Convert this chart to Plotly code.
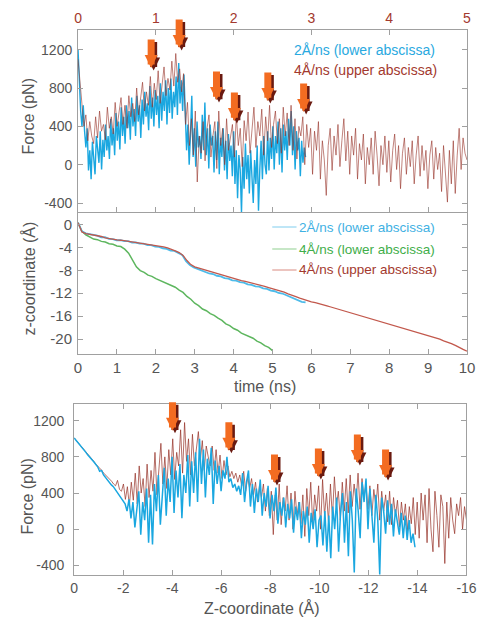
import numpy as np
import plotly.graph_objects as go

W, H = 485, 617
FONT = "Liberation Sans, Arial, sans-serif"

# ---------------- data ----------------
# Top panel: force (pN)
# 2 Å/ns pulling, lower abscissa (time, ns), 0 .. 5.85 ns
top_blue_t_end = 5.85
top_blue_force = [
    1200, 820, 560, 400, 620, 350, 180, 380, -60, 150,
    -150, 240, 60, -100, 300, 120, 20, 350, -50, 260,
    80, 420, 150, 300, 60, 480, 200, 380, 100, 540,
    250, 450, 160, 600, 300, 500, 220, 620, 380, 560,
    260, 700, 400, 580, 300, 720, 450, 620, 280, 680,
    420, 760, 500, 640, 360, 820, 480, 700, 400, 780,
    520, 720, 380, 850, 460, 760, 560, 880, 420, 800,
    540, 900, 480, 760, 600, 920, 520, 1060, 640, 880,
    560, 940, 600, 150, 420, 0, 320, 720, 80, 380,
    -20, 450, 180, 300, 60, 520, 150, 650, 100, 380,
    -40, 420, 200, 300, -80, 350, 50, 450, -100, 280,
    80, 380, -60, 250, -150, 320, 40, 200, -120, 350,
    -200, 150, -350, 100, -50, -500, 80, -250, 220, -150,
    100, -300, 150, -100, -400, 50, -200, 200, -480, -50,
    250, -150, 300, 0, -100, 350, -60, 280, 60, 400,
    -50, 300, 120, 450, 0, 380, -80, 420, 150, 350,
    50, 480, 200, 560, 100, 400, -50, 350, 150, 280,
    -120, 250, 20, 180, 80,
]
# 4 Å/ns pulling, upper abscissa (time, ns), 0 .. 5 ns
top_red_t_end = 5.0
top_red_force = [
    1100, 850, 620, 400, 520, 250, 450, 300, 220, 500,
    280, 560, 350, 420, 260, 600, 380, 500, 320, 650,
    400, 580, 700, 420, 620, 380, 720, 500, 640, 450,
    800, 520, 700, 860, 560, 760, 620, 920, 600, 850,
    680, 980, 640, 820, 1020, 720, 900, 780, 1080, 820,
    1160, 860, 1000, 760, 950, 420, 650, 200, 480, 100,
    560, -180, 300, 120, 450, 40, 380, 520, 80, 300,
    450, -40, 560, 200, 380, 0, 480, 150, 300, 420,
    80, 520, 200, 380, -20, 460, 250, 550, 120, 400,
    600, 180, 450, 300, 580, 100, 500, 250, 620, 180,
    420, 560, 220, 480, 120, 600, 300, 540, 200, 620,
    150, 480, 60, 400, 300, 500, 0, 420, 180, 380,
    -100, 350, 150, 450, -150, 250, 50, -320, 200, 380,
    -60, 300, 100, 420, -20, 250, 480, 40, 350, -100,
    300, 100, 380, -150, 220, 50, 320, -200, 180, 0,
    280, -100, 350, 100, -220, 200, 0, 300, -80, 250,
    -180, 150, 320, -50, 200, -250, 120, 280, -100, 180,
    -20, 250, -200, 100, 300, -120, 200, -60, 150, -250,
    100, 250, -150, 180, -50, 120, -280, 200, -100, -390,
    150, -200, 250, -300, 100, 380, -50, 280, 120, 50,
]

# Middle panel: z-coordinate (Å) versus time
mid_blue_t_end = 5.85
mid_blue_z = [
    0.3, -1.2, -1.55, -1.65, -1.85, -1.95, -2.25, -2.2, -2.5, -2.55,
    -2.75, -2.75, -2.9, -2.9, -3.15, -3.15, -3.35, -3.35, -3.6, -3.6,
    -3.85, -3.9, -4.15, -4.25, -4.55, -4.6, -4.95, -5.3, -6.4, -7.1,
    -7.5, -7.75, -8.05, -8.25, -8.55, -8.65, -8.95, -9.05, -9.35, -9.45,
    -9.75, -9.8, -10.05, -10.15, -10.45, -10.55, -10.8, -10.85, -11.15, -11.25,
    -11.55, -11.65, -11.95, -12.05, -12.35, -12.55, -12.95, -13.15, -13.5, -13.6,
]
mid_green_t_end = 5.0
mid_green_z = [
    0.3, -1.2, -1.8, -2.2, -2.55, -2.65, -2.95, -3.05, -3.35, -3.45,
    -3.75, -3.85, -4.3, -5.0, -6.3, -7.4, -8.05, -8.35, -8.85, -9.05,
    -9.45, -9.75, -10.15, -10.35, -10.75, -10.95, -11.45, -11.85, -12.55, -13.05,
    -13.75, -14.15, -14.75, -15.05, -15.55, -15.85, -16.35, -16.75, -17.35, -17.65,
    -18.15, -18.45, -18.95, -19.25, -19.65, -19.85, -20.35, -20.65, -21.15, -21.45,
    -22.0,
]
mid_red_t_end = 5.0
mid_red_z = [
    0.3, -1.3, -1.6, -1.7, -1.8, -1.95, -2.1, -2.35, -2.5, -2.6,
    -2.7, -2.75, -2.85, -2.9, -3.0, -3.1, -3.2, -3.3, -3.45, -3.5,
    -3.7, -3.75, -3.9, -4.1, -4.3, -4.6, -4.9, -5.4, -6.3, -7.0,
    -7.4, -7.6, -7.9, -8.05, -8.3, -8.5, -8.7, -8.85, -9.1, -9.3,
    -9.5, -9.6, -9.8, -9.95, -10.1, -10.3, -10.5, -10.6, -10.8, -11.0,
    -11.2, -11.35, -11.6, -11.8, -12.1, -12.3, -12.6, -12.85, -13.1, -13.3,
    -13.5, -13.65, -13.8, -14.0, -14.2, -14.4, -14.6, -14.8, -15.0, -15.1,
    -15.35, -15.5, -15.7, -15.95, -16.2, -16.4, -16.6, -16.8, -17.0, -17.2,
    -17.4, -17.55, -17.8, -18.0, -18.2, -18.35, -18.6, -18.8, -19.0, -19.15,
    -19.4, -19.6, -19.8, -20.0, -20.3, -20.5, -20.8, -21.1, -21.5, -21.8,
    -22.1,
]

# Bottom panel: force (pN) versus Z-coordinate (Å)
bot_blue_z_end = -13.9
bot_blue_force = [
    1010, 985, 955, 930, 905, 880, 850, 820, 800, 770,
    745, 715, 690, 640, 650, 600, 570, 545, 520, 490,
    470, 440, 410, 380, 350, 320, 280, 200, 330, 120,
    300, 20, 250, 420, -60, 300, 100, 450, -150, 380,
    -170, 500, 200, 600, 50, 420, 680, 150, 560, 300,
    800, 180, 650, 350, 720, 120, 600, 400, 820, 250,
    750, 400, 850, 300, 1000, 500, 880, 350, 780, 600,
    900, 280, 760, 500, 700, 420, 650, 560, 800, 520,
    560, 460, 500, 420, 480, 380, 620, 300, 520, 650,
    250, 500, 180, 450, 300, 550, 150, 400, 250, 480,
    120, 380, 200, 460, 60, 300, 150, 350, 20, 280,
    120, 330, -40, 250, 100, 300, -100, 200, 50, 250,
    -150, 180, 0, 220, -200, 100, 150, -180, 200, -250,
    150, -320, 250, 0, 350, -250, 180, 400, -150, 300,
    -300, 420, 100, -480, 450, 200, -100, 520, 300, 560,
    0, 450, 150, -150, 380, 100, -500, 350, 200, -50,
    320, 50, 280, -80, 220, 100, -60, 180, -100, 150,
    -120, 100, -150, -50, -200,
]
bot_red_z_end = -16.0
bot_red_force = [
    1010, 985, 960, 935, 905, 880, 850, 830, 800, 775,
    750, 720, 700, 680, 650, 620, 600, 580, 560, 530,
    500, 480, 540, 440, 420, 500, 330, 470, 260, 520,
    320, 620, 280, 700, 400, 560, 250, 720, 350, 650,
    420, 850, 380, 700, 950, 500, 800, 450, 880, 600,
    1000, 550, 850, 700, 1100, 620, 1180, 750, 1000, 600,
    1050, 700, 900, 1080, 760, 980, 650, 920, 800, 700,
    920, 650, 880, 620, 820, 560, 760, 600, 700, 580,
    640, 560, 620, 520, 600, 480, 640, 420, 580, 450,
    560, 380, 520, 300, 480, 350, 500, 200, 450, 150,
    420, -60, 380, 100, 500, 50, 350, 200, 480, 100,
    400, 0, 420, 150, 300, 60, 380, -80, 450, 150,
    520, 50, 380, 200, 480, 0, 550, 150, 400, 80,
    500, 120, 580, 250, 420, 100, 520, 200, 560, 180,
    600, 250, 500, 300, 620, 220, 560, 350, 500, 220,
    480, 150, 440, 250, 500, 100, 420, 200, 380, 80,
    420, 50, 350, 150, 320, 20, 300, 100, 280, -20,
    250, 60, 350, -60, 300, -100, 400, 100, 380, -150,
    450, 0, -250, 420, 150, -200, 380, 250, -380, 300,
    -100, 350, 100, -50, 280, 150, 350, 0, 250, 100,
]

# Arrows marking rupture events (tip positions)
top_arrow_time_upper = [0.94, 1.30, 1.78, 2.01, 2.44, 2.90]
top_arrow_force = [1009, 1218, 675, 456, 664, 550]
bot_arrow_z = [-4.01, -6.31, -8.17, -9.96, -11.55, -12.70]
bot_arrow_force = [1089, 867, 511, 578, 733, 567]

# Tick labels
top_force_ticks = [-400, 0, 400, 800, 1200]
z_ticks = [0, -4, -8, -12, -16, -20]
time_ticks = list(range(0, 11))
upper_time_ticks = list(range(0, 6))
zcoord_ticks = [0, -2, -4, -6, -8, -10, -12, -14, -16]
bot_force_ticks = [-400, 0, 400, 800, 1200]

# ---------------- styling ----------------
BLUE = "#1aa7e0"
RED = "rgba(150,48,38,0.6)"
RED_TXT = "#a3392e"
GREEN = "#5db65e"
GRAY_TXT = "#555555"
AXIS = "#a0a0a0"
ORANGE = "#f36c21"
SHADOW = "#6a1a10"


def px_x(px):
    return px / W


def px_y(py):
    return 1 - py / H


fig = go.Figure()

# top panel
fig.add_trace(go.Scatter(
    x=np.linspace(0, top_blue_t_end, len(top_blue_force)), y=top_blue_force,
    mode="lines", line=dict(color=BLUE, width=1.4), xaxis="x", yaxis="y",
    showlegend=False))
fig.add_trace(go.Scatter(
    x=np.linspace(0, top_red_t_end, len(top_red_force)), y=top_red_force,
    mode="lines", line=dict(color=RED, width=1), xaxis="x2", yaxis="y",
    showlegend=False))
# middle panel
fig.add_trace(go.Scatter(
    x=np.linspace(0, mid_green_t_end, len(mid_green_z)), y=mid_green_z,
    mode="lines", line=dict(color=GREEN, width=1.5), xaxis="x3", yaxis="y3",
    showlegend=False))
fig.add_trace(go.Scatter(
    x=np.linspace(0, mid_blue_t_end, len(mid_blue_z)), y=mid_blue_z,
    mode="lines", line=dict(color="#4dbbe9", width=1.8), xaxis="x3", yaxis="y3",
    showlegend=False))
fig.add_trace(go.Scatter(
    x=np.linspace(0, mid_red_t_end, len(mid_red_z)), y=mid_red_z,
    mode="lines", line=dict(color="#c2584c", width=1.3), xaxis="x4", yaxis="y3",
    showlegend=False))
# bottom panel (red behind, blue in front)
fig.add_trace(go.Scatter(
    x=np.linspace(0, bot_red_z_end, len(bot_red_force)), y=bot_red_force,
    mode="lines", line=dict(color="rgba(150,48,38,0.7)", width=1),
    xaxis="x5", yaxis="y5", showlegend=False))
fig.add_trace(go.Scatter(
    x=np.linspace(0, bot_blue_z_end, len(bot_blue_force)), y=bot_blue_force,
    mode="lines", line=dict(color=BLUE, width=1.5), xaxis="x5", yaxis="y5",
    showlegend=False))


def ax_common(**kw):
    d = dict(showline=True, linecolor=AXIS, linewidth=1, ticks="inside",
             ticklen=5, tickcolor=AXIS, showgrid=False, zeroline=False,
             tickfont=dict(family=FONT, size=14, color=GRAY_TXT))
    d.update(kw)
    return d


def labels(vals):
    return [str(v) for v in vals]


TOP_DOM = [px_y(204), px_y(22)]
MID_DOM = [px_y(346), px_y(205)]
BOT_DOM = [px_y(567), px_y(396)]
XDOM = [px_x(68), px_x(468.5)]

fig.update_layout(
    width=W, height=H,
    margin=dict(l=0, r=0, t=0, b=0),
    paper_bgcolor="white", plot_bgcolor="white",
    font=dict(family=FONT, color=GRAY_TXT),
    xaxis=ax_common(domain=XDOM, anchor="y", range=[0, 10],
                    tickvals=time_ticks, showticklabels=False),
    xaxis2=ax_common(overlaying="x", side="top", anchor="y", range=[0, 5],
                     tickvals=upper_time_ticks, ticktext=labels(upper_time_ticks),
                     tickfont=dict(family=FONT, size=14, color=RED_TXT)),
    yaxis=ax_common(domain=TOP_DOM, anchor="x", range=[-493, 1405],
                    tickvals=top_force_ticks, ticktext=labels(top_force_ticks),
                    mirror="ticks", ticklabelstandoff=2),
    xaxis3=ax_common(domain=XDOM, anchor="y3", range=[0, 10],
                     tickvals=time_ticks, ticktext=labels(time_ticks),
                     mirror=True, tickfont=dict(family=FONT, size=15, color=GRAY_TXT)),
    xaxis4=dict(overlaying="x3", anchor="y3", range=[0, 5], visible=False),
    yaxis3=ax_common(domain=MID_DOM, anchor="x3", range=[-22.6, 2.0],
                     tickvals=z_ticks, ticktext=labels(z_ticks), mirror="ticks",
                     ticklabelstandoff=2,
                     tickfont=dict(family=FONT, size=15, color=GRAY_TXT)),
    xaxis5=ax_common(domain=[px_x(64), px_x(468)], anchor="y5", range=[0, -16],
                     tickvals=zcoord_ticks, ticktext=labels(zcoord_ticks),
                     mirror="ticks"),
    yaxis5=ax_common(domain=BOT_DOM, anchor="x5", range=[-507, 1385],
                     tickvals=bot_force_ticks, ticktext=labels(bot_force_ticks),
                     mirror="ticks", ticklabelstandoff=6),
)

ann = []


def title(text, x, y, size=16, angle=0):
    ann.append(dict(text=text, xref="paper", yref="paper", x=px_x(x), y=px_y(y),
                    xanchor="center", yanchor="middle", showarrow=False,
                    textangle=angle, font=dict(family=FONT, size=size, color=GRAY_TXT)))


title("Force (pN)", 18, 108, angle=-90)
title("z-coordinate (Å)", 18, 270, angle=-90)
title("time (ns)", 261, 378)
title("Force (pN)", 15, 489, angle=-90)
title("Z-coordinate (Å)", 257, 600)


def legend_text(text, x, y, color, size=14):
    ann.append(dict(text=text, xref="paper", yref="paper", x=px_x(x), y=px_y(y),
                    xanchor="left", yanchor="middle", showarrow=False,
                    font=dict(family=FONT, size=size, color=color)))


legend_text("2Å/ns (lower abscissa)", 288, 42, "#29a9e0")
legend_text("4Å/ns (upper abscissa)", 288, 62, RED_TXT)
legend_text("2Å/ns (lower abscissa)", 293, 219, "#3fb1e3", 13.5)
legend_text("4Å/ns (lower abscissa)", 293, 241, "#3fae4a", 13.5)
legend_text("4Å/ns (upper abscissa)", 293, 262, RED_TXT, 13.5)

shapes = []
for py, col in [(219, "#7fcdee"), (241, "#8fcf8f"), (262, "#d98a80")]:
    shapes.append(dict(type="line", xref="paper", yref="paper",
                       x0=px_x(268), x1=px_x(293), y0=px_y(py), y1=px_y(py),
                       line=dict(color=col, width=1)))


def arrow(x, y, xref, yref):
    for color, xs, ys in [(SHADOW, 2.5, -2.5), (ORANGE, 0, 0)]:
        ann.append(dict(text="", x=x, y=y, xref=xref, yref=yref,
                        showarrow=True, ax=0, ay=-30, arrowhead=2,
                        arrowwidth=7, arrowsize=0.37, arrowcolor=color,
                        xshift=xs, yshift=ys))


for x, y in zip(top_arrow_time_upper, top_arrow_force):
    arrow(x, y, "x2", "y")
for x, y in zip(bot_arrow_z, bot_arrow_force):
    arrow(x, y, "x5", "y5")

fig.update_layout(annotations=ann, shapes=shapes)
fig.write_html("out.html")
